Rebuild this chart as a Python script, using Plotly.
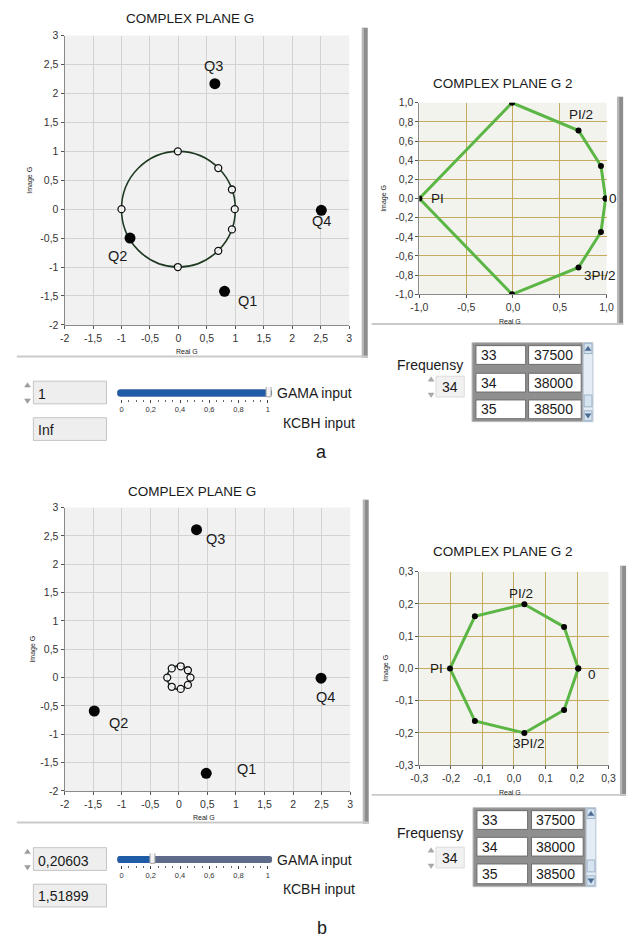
import plotly.graph_objects as go

FIG_W, FIG_H = 636, 946


def X(p):
    return p / FIG_W


def Y(p):
    return 1 - p / FIG_H


# ---------------- data ----------------
Q_NAMES = ["Q1", "Q2", "Q3", "Q4"]
QA_RE = [0.81, -0.85, 0.64, 2.51]
QA_IM = [-1.42, -0.50, 2.17, -0.02]
QB_RE = [0.48, -1.48, 0.31, 2.49]
QB_IM = [-1.69, -0.59, 2.61, -0.01]

GA_RE = [0.99, 0.94, 0.70, -0.01, -1.00, -0.01, 0.70, 0.94]
GA_IM = [0.00, 0.34, 0.71, 1.00, 0.00, -1.00, -0.72, -0.35]
GB_RE = [0.204, 0.159, 0.033, -0.124, -0.203, -0.124, 0.033, 0.159]
GB_IM = [0.000, 0.129, 0.199, 0.162, 0.000, -0.163, -0.200, -0.129]

PHASE_LABELS = ["0", "PI/2", "PI", "3PI/2"]
PHASE_INDEX = [0, 2, 4, 6]

GAMA = [1.0, 0.20603]
GAMA_TEXT = ["1", "0,20603"]
KCBH_TEXT = ["Inf", "1,51899"]
FREQ_SEL = ["34", "34"]
FREQ_IDX = [33, 34, 35]
FREQ_HZ = [37500, 38000, 38500]
PANEL_LETTERS = ["a", "b"]

TICKS_G = [-2, -1.5, -1, -0.5, 0, 0.5, 1, 1.5, 2, 2.5, 3]
TICKS_G_TXT = ["-2", "-1,5", "-1", "-0,5", "0", "0,5", "1", "1,5", "2", "2,5", "3"]
TICKS_A2_X = [-1, -0.5, 0, 0.5, 1]
TICKS_A2_X_TXT = ["-1,0", "-0,5", "0,0", "0,5", "1,0"]
TICKS_A2_Y = [-1, -0.8, -0.6, -0.4, -0.2, 0, 0.2, 0.4, 0.6, 0.8, 1]
TICKS_A2_Y_TXT = ["-1,0", "-0,8", "-0,6", "-0,4", "-0,2", "0,0", "0,2", "0,4", "0,6", "0,8", "1,0"]
TICKS_B2 = [-0.3, -0.2, -0.1, 0, 0.1, 0.2, 0.3]
TICKS_B2_TXT = ["-0,3", "-0,2", "-0,1", "0,0", "0,1", "0,2", "0,3"]
SLIDER_TICKS = [0, 0.2, 0.4, 0.6, 0.8, 1]
SLIDER_TICKS_TXT = ["0", "0,2", "0,4", "0,6", "0,8", "1"]

# ---------------- style ----------------
FONT = "Liberation Sans"
INK = "#1a1a1a"
GRID_G = "#d2d2d2"
GRID_G2 = "#c4ac5c"
BG_G = "#f1f1f1"
BG_G2 = "#f3f3ee"
GREEN = "#5cb646"
BLUE = "#1f5ba6"
SLATE = "#5f6b8a"

# pixel layout of the two panels
CH1 = [dict(x=(57, 349), y=(30, 323)), dict(x=(57, 350), y=(508, 795))]
CH2 = [dict(x=(421, 613), y=(98, 292)), dict(x=(421, 615), y=(573, 769))]
SLD = [dict(x=(111, 270), yc=392), dict(x=(111, 270), yc=864.5)]
SLIDER_RANGE = [-0.03, 1.03]

Q_OFFS = [[(23, -10), (-13, -18), (-1, 18), (0, -11)],
          [(40, 4), (24, -12), (19, -9), (4, -19)]]
PH_OFFS = [[(7, 0), (3, 16), (18, 0), (22, -8)],
           [(14, -6), (-3, 11), (-13, 0), (5, -11)]]

fig = go.Figure()
shapes = []
ann = []


def axis_common(tickvals, ticktext, grid, fs=10.5):
    return dict(tickmode="array", tickvals=tickvals, ticktext=ticktext,
                showgrid=True, gridcolor=grid, gridwidth=1, zeroline=False,
                showline=True, linecolor="#8a8a8a", linewidth=1,
                ticks="outside", ticklen=3, tickcolor="#555",
                tickfont=dict(family=FONT, size=fs, color="#333"),
                fixedrange=True)


def txt(x, y, s, size=13, xanchor="center", color=INK, angle=0):
    ann.append(dict(x=X(x), y=Y(y), xref="paper", yref="paper", text=s,
                    showarrow=False, xanchor=xanchor, yanchor="middle",
                    textangle=angle,
                    font=dict(family=FONT, size=size, color=color)))


def rect(x0, y0, x1, y1, fill, line=None, lw=0, layer="below"):
    shapes.append(dict(type="rect", xref="paper", yref="paper",
                       x0=X(x0), x1=X(x1), y0=Y(y1), y1=Y(y0),
                       fillcolor=fill, layer=layer,
                       line=dict(color=line or fill, width=lw)))


def tri(cx, cy, up, fill="#9c9c9c"):
    d = -1 if up else 1
    p = "M {} {} L {} {} L {} {} Z".format(
        X(cx - 3), Y(cy - 2 * d), X(cx + 3), Y(cy - 2 * d), X(cx), Y(cy + 2.5 * d))
    shapes.append(dict(type="path", xref="paper", yref="paper", path=p,
                       fillcolor=fill, line=dict(color=fill, width=0.5)))


layout_axes = {}
Q_RE = [QA_RE, QB_RE]
Q_IM = [QA_IM, QB_IM]
G_RE = [GA_RE, GB_RE]
G_IM = [GA_IM, GB_IM]
R2 = [1.0, 0.3]

for i in range(2):
    n1 = 2 * i + 1
    n2 = 2 * i + 2
    ns = 5 + i
    s1 = "" if n1 == 1 else str(n1)
    s2 = str(n2)
    ss = str(ns)
    c1, c2, sl = CH1[i], CH2[i], SLD[i]

    # ---- chart 1 : COMPLEX PLANE G ----
    xa = axis_common(TICKS_G, TICKS_G_TXT, GRID_G)
    xa.update(domain=[X(c1["x"][0]), X(c1["x"][1])], range=[-2, 3], anchor="y" + s1)
    ya = axis_common(TICKS_G, TICKS_G_TXT, GRID_G)
    ya.update(domain=[Y(c1["y"][1]), Y(c1["y"][0])], range=[-2, 3], anchor="x" + s1)
    layout_axes["xaxis" + s1] = xa
    layout_axes["yaxis" + s1] = ya
    rect(c1["x"][0], c1["y"][0], c1["x"][1], c1["y"][1], BG_G)
    shapes.append(dict(type="circle", xref="x" + s1, yref="y" + s1,
                       x0=-GAMA[i], x1=GAMA[i], y0=-GAMA[i], y1=GAMA[i],
                       line=dict(color="#1f3a22", width=1.6), layer="between"))
    fig.add_trace(go.Scatter(x=G_RE[i], y=G_IM[i], mode="markers",
                             xaxis="x" + s1, yaxis="y" + s1,
                             marker=dict(symbol="circle", size=7, color="rgba(255,255,255,0.85)",
                                         line=dict(color="#111", width=1.3)),
                             hoverinfo="skip", showlegend=False))
    fig.add_trace(go.Scatter(x=Q_RE[i], y=Q_IM[i], mode="markers",
                             xaxis="x" + s1, yaxis="y" + s1,
                             marker=dict(size=11, color="#050505"),
                             hoverinfo="skip", showlegend=False))
    for k, name in enumerate(Q_NAMES):
        dx, dy = Q_OFFS[i][k]
        ann.append(dict(x=Q_RE[i][k], y=Q_IM[i][k], xref="x" + s1, yref="y" + s1,
                        text=name, showarrow=False, xshift=dx, yshift=dy,
                        font=dict(family=FONT, size=14.5, color=INK)))
    cx1 = (c1["x"][0] + c1["x"][1]) / 2
    # frame
    fx1 = c1["x"][1] + 13
    rect(fx1, c1["y"][0] - 8, fx1 + 6, c1["y"][1] + 33, "#8d8d8d", layer="above")
    rect(fx1, c1["y"][0] - 8, fx1 + 2, c1["y"][1] + 33, "#b9b9b9", layer="above")
    rect(8, c1["y"][1] + 31, fx1 + 6, c1["y"][1] + 33, "#c9c9c9", layer="above")

    # ---- chart 2 : COMPLEX PLANE G 2 ----
    if i == 0:
        xt, xtt, yt, ytt = TICKS_A2_X, TICKS_A2_X_TXT, TICKS_A2_Y, TICKS_A2_Y_TXT
    else:
        xt, xtt, yt, ytt = TICKS_B2, TICKS_B2_TXT, TICKS_B2, TICKS_B2_TXT
    xb = axis_common(xt, xtt, GRID_G2)
    xb.update(domain=[X(c2["x"][0]), X(c2["x"][1])], range=[-R2[i], R2[i]], anchor="y" + s2)
    yb = axis_common(yt, ytt, GRID_G2)
    yb.update(domain=[Y(c2["y"][1]), Y(c2["y"][0])], range=[-R2[i], R2[i]], anchor="x" + s2)
    layout_axes["xaxis" + s2] = xb
    layout_axes["yaxis" + s2] = yb
    rect(c2["x"][0], c2["y"][0], c2["x"][1], c2["y"][1], BG_G2)
    fig.add_trace(go.Scatter(x=G_RE[i] + G_RE[i][:1], y=G_IM[i] + G_IM[i][:1],
                             mode="lines+markers", xaxis="x" + s2, yaxis="y" + s2,
                             line=dict(color=GREEN, width=3),
                             marker=dict(size=6, color="#050505"),
                             hoverinfo="skip", showlegend=False))
    for k, lab in enumerate(PHASE_LABELS):
        j = PHASE_INDEX[k]
        dx, dy = PH_OFFS[i][k]
        ann.append(dict(x=G_RE[i][j], y=G_IM[i][j], xref="x" + s2, yref="y" + s2,
                        text=lab, showarrow=False, xshift=dx, yshift=dy,
                        font=dict(family=FONT, size=13.5, color=INK)))
    fx2 = c2["x"][1] + 11 + i
    rect(fx2, c2["y"][0] - 6, fx2 + 6, c2["y"][1] + 31, "#8d8d8d", layer="above")
    rect(fx2, c2["y"][0] - 6, fx2 + 2, c2["y"][1] + 31, "#b9b9b9", layer="above")
    rect(372, c2["y"][1] + 29, fx2 + 6, c2["y"][1] + 31, "#c9c9c9", layer="above")

    # ---- slider (GAMA input) ----
    xs = dict(domain=[X(sl["x"][0]), X(sl["x"][1])], range=SLIDER_RANGE, anchor="y" + ss,
              tickmode="array", tickvals=SLIDER_TICKS, ticktext=SLIDER_TICKS_TXT,
              ticks="outside", ticklen=3, tickcolor="#444", showgrid=False,
              zeroline=False, showline=False, fixedrange=True,
              minor=dict(dtick=0.05, tick0=0, ticks="outside", ticklen=2,
                         tickcolor="#666", showgrid=False),
              tickfont=dict(family=FONT, size=7.5, color="#333"))
    ys = dict(domain=[Y(sl["yc"] + 6), Y(sl["yc"] - 6)], range=[-0.5, 0.5],
              anchor="x" + ss, visible=False, fixedrange=True)
    layout_axes["xaxis" + ss] = xs
    layout_axes["yaxis" + ss] = ys
    b0 = SLIDER_RANGE[0]
    fig.add_trace(go.Bar(x=[SLIDER_RANGE[1] - b0], y=[0], base=b0, orientation="h",
                         width=0.6, marker=dict(color=SLATE, line=dict(width=0)),
                         xaxis="x" + ss, yaxis="y" + ss, hoverinfo="skip",
                         showlegend=False))
    fig.add_trace(go.Bar(x=[GAMA[i] - b0], y=[0], base=b0, orientation="h",
                         width=0.6, marker=dict(color=BLUE, line=dict(width=0)),
                         xaxis="x" + ss, yaxis="y" + ss, hoverinfo="skip",
                         showlegend=False))
    shapes.append(dict(type="rect", xref="x" + ss, yref="y" + ss,
                       x0=GAMA[i] - 0.012, x1=GAMA[i] + 0.022, y0=-0.32, y1=0.78,
                       fillcolor="#f3f3f3", line=dict(color="#a5a5a5", width=1),
                       layer="above"))
    txt(sl["x"][1] + 3, sl["yc"], "GAMA input", 14, "left")
    txt(sl["x"][1] + 9, sl["yc"] + 30, "КСВН input", 14, "left")

    # numeric boxes
    by = sl["yc"]
    rect(25, by - 12, 100, by + 11, "#eeeeee", "#c4c4c4", 1)
    rect(25, by + 25, 100, by + 48, "#eeeeee", "#c4c4c4", 1)
    tri(19, by - 8, True)
    tri(19, by + 8, False)
    txt(28, by + 1, GAMA_TEXT[i], 14, "left")
    txt(28, by + 37, KCBH_TEXT[i], 14, "left")

    # panel letter
    txt(321, by + 60 + 9 * i, PANEL_LETTERS[i], 18)

    # titles / axis titles
    txt(cx1 - 17 + i * 1, c1["y"][0] - 17 + i * 1, "COMPLEX PLANE G", 13.5)
    txt(507, c2["y"][0] - 20, "COMPLEX PLANE G 2", 13.5)
    txt(183 + 17 * i, c1["y"][1] + 27, "Real G", 7)
    txt(22 + 3 * i, (c1["y"][0] + c1["y"][1]) / 2 + 0 * i, "Image G", 7, angle=-90)
    txt(514, c2["y"][1] + 28, "Real G", 7)
    txt(384 + 3 * i, (c2["y"][0] + c2["y"][1]) / 2, "Image G", 7, angle=-90)

# ---------------- frequency tables ----------------
TB = [dict(x0=475, x1=589, y0=341, rows=[(344, 363), (372, 391), (399, 418)],
           c1=(479, 530), c2=(533, 587), fy=364, sy=386, sb=(589, 599)),
      dict(x0=476, x1=592, y0=812, rows=[(815, 834), (842, 861), (869, 889)],
           c1=(480, 532), c2=(536, 589), fy=838, sy=863, sb=(592, 602))]
for i, t in enumerate(TB):
    y1 = t["rows"][-1][1] + 3
    rect(t["x0"], t["y0"], t["x1"], y1, "#8f8f8f", "#bdbdbd", 1, layer="above")
    for r, (ra, rb) in enumerate(t["rows"]):
        rect(t["c1"][0], ra, t["c1"][1], rb, "white", "#6d6d6d", 1, layer="above")
        rect(t["c2"][0], ra, t["c2"][1], rb, "white", "#6d6d6d", 1, layer="above")
        txt(t["c1"][0] + 3, (ra + rb) / 2, str(FREQ_IDX[r]), 14, "left")
        txt(t["c2"][0] + 3, (ra + rb) / 2, str(FREQ_HZ[r]), 14, "left")
    sb0, sb1 = t["sb"]
    rect(sb0, t["y0"], sb1, y1, "#e4edf5", "#b4c2d0", 1, layer="above")
    rect(sb0 + 1, t["y0"] + 1, sb1 - 1, t["y0"] + 11, "#d6e4f0", "#9fb3c8", 1, layer="above")
    rect(sb0 + 1, y1 - 11, sb1 - 1, y1 - 1, "#d6e4f0", "#9fb3c8", 1, layer="above")
    rect(sb0 + 1, y1 - 27, sb1 - 1, y1 - 15, "#d6e4f0", "#9fb3c8", 1, layer="above")
    tri((sb0 + sb1) / 2, t["y0"] + 6, True, "#4a6a90")
    tri((sb0 + sb1) / 2, y1 - 6, False, "#4a6a90")
    txt(432, t["fy"], "Frequensy", 14)
    rect(438, t["sy"] - 11, 467, t["sy"] + 10, "#f1f1f1", "#dcdcdc", 1)
    tri(433, t["sy"] - 8, True, "#a8a8a8")
    tri(433, t["sy"] + 8, False, "#a8a8a8")
    txt(442, t["sy"], FREQ_SEL[i], 14, "left")

fig.update_layout(
    width=FIG_W, height=FIG_H, autosize=False,
    margin=dict(l=0, r=0, t=0, b=0, pad=0),
    paper_bgcolor="white", plot_bgcolor="rgba(0,0,0,0)",
    showlegend=False, barmode="overlay", barcornerradius=3,
    shapes=shapes, annotations=ann,
    **layout_axes,
)

fig.write_html("out.html", config={"displayModeBar": False, "staticPlot": True},
               post_script="document.body.style.margin='0';document.body.style.overflow='hidden';")
